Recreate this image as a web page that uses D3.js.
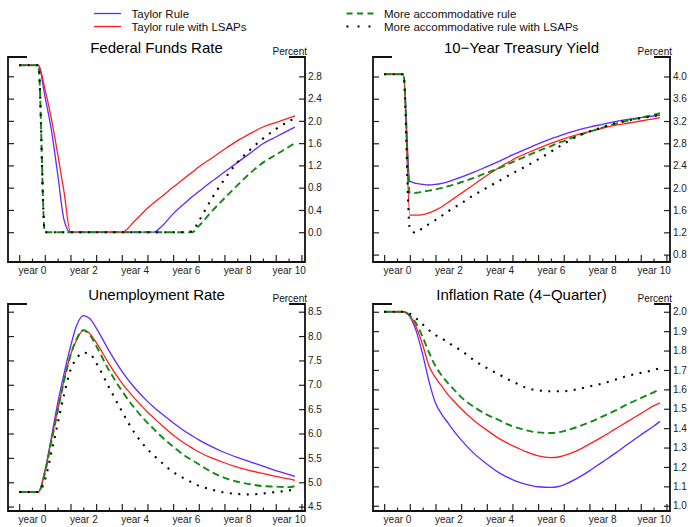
<!DOCTYPE html>
<html><head><meta charset="utf-8">
<script src="https://cdn.jsdelivr.net/npm/d3@7"></script>
<style>
body{margin:0;background:#fff;}
svg{display:block;font-family:"Liberation Sans",Arial,Helvetica,sans-serif;}
</style></head>
<body><svg id="c" width="690" height="527"></svg>
<script>
// ---------------- DATA ----------------
const years = [-0.5, 0, 0.25, 0.5, 0.75, 1, 1.25, 1.5, 1.75, 2, 2.25, 2.5, 3, 3.5, 4, 4.5, 4.75, 5, 5.5, 6, 6.25, 6.5, 7, 7.5, 8, 8.5, 9, 9.5, 10, 10.25];
const seriesNames = ["Taylor Rule", "Taylor rule with LSAPs", "More accommodative rule", "More accommodative rule with LSAPs"];
const panelTitles = ["Federal Funds Rate", "10\u2212Year Treasury Yield", "Unemployment Rate", "Inflation Rate (4\u2212Quarter)"];
const xLabelYears = [0, 2, 4, 6, 8, 10];

// Federal funds rate
const ffrTaylor      = [3.0,3.0,3.0, 2.45,1.85,1.05,0.22, 0,0,0,0,0,0,0,0,0,0, 0.08,0.33,0.54,0.64,0.73,0.91,1.08,1.25,1.42,1.59,1.71,1.83,1.89];
const ffrTaylorLSAP  = [3.0,3.0,3.0, 2.58,2.05,1.41,0.72, 0,0,0,0,0,0,0, 0.2,0.43,0.53,0.62,0.81,0.99,1.08,1.17,1.33,1.49,1.64,1.77,1.89,1.97,2.05,2.09];
const ffrAccom       = [3.0,3.0,3.0, 0,0,0,0,0,0,0,0,0,0,0,0,0,0,0,0,0,0, 0.11,0.37,0.61,0.84,1.06,1.25,1.39,1.53,1.60];
const ffrAccomLSAP   = [3.0,3.0,3.0, 0,0,0,0,0,0,0,0,0,0,0,0,0,0,0,0,0, 0.02,0.2,0.6,0.95,1.25,1.48,1.68,1.85,1.99,2.05];
// 10-year Treasury yield
const tyTaylor       = [4.04,4.04,4.04, 2.12,2.08,2.06,2.05,2.06,2.08,2.11,2.15,2.19,2.28,2.38,2.48,2.59,2.64,2.69,2.79,2.88,2.92,2.96,3.03,3.09,3.14,3.19,3.23,3.26,3.29,3.30];
const tyTaylorLSAP   = [4.04,4.04,4.04, 1.51,1.51,1.52,1.55,1.60,1.66,1.74,1.82,1.90,2.06,2.22,2.37,2.50,2.56,2.61,2.71,2.80,2.84,2.88,2.95,3.01,3.07,3.12,3.16,3.20,3.24,3.26];
const tyAccom        = [4.04,4.04,4.04, 1.90,1.91,1.93,1.95,1.97,2.00,2.03,2.06,2.10,2.18,2.27,2.36,2.46,2.51,2.56,2.66,2.75,2.80,2.84,2.93,3.01,3.08,3.15,3.21,3.26,3.31,3.34];
const tyAccomLSAP    = [4.04,4.04,4.04, 1.26,1.19,1.28,1.35,1.42,1.50,1.58,1.65,1.72,1.87,2.00,2.13,2.26,2.32,2.38,2.51,2.65,2.72,2.79,2.92,3.01,3.09,3.16,3.21,3.25,3.29,3.31];
// Unemployment rate
const urTaylor       = [4.8,4.8,4.8, 5.23,5.90,6.62,7.23,7.78,8.23,8.42,8.36,8.17,7.70,7.28,6.94,6.66,6.54,6.43,6.22,6.03,5.95,5.87,5.73,5.61,5.51,5.42,5.33,5.24,5.16,5.12];
const urTaylorLSAP   = [4.8,4.8,4.8, 5.21,5.86,6.48,7.10,7.61,7.93,8.12,8.05,7.87,7.43,7.04,6.72,6.44,6.32,6.20,5.97,5.78,5.70,5.62,5.50,5.40,5.31,5.24,5.18,5.12,5.07,5.04];
const urAccom        = [4.8,4.8,4.8, 5.18,5.82,6.45,7.08,7.60,7.95,8.12,8.03,7.80,7.30,6.88,6.52,6.22,6.09,5.96,5.73,5.53,5.45,5.37,5.21,5.09,5.01,4.96,4.92,4.91,4.90,4.92];
const urAccomLSAP    = [4.8,4.8,4.8, 5.04,5.60,6.20,6.80,7.30,7.55,7.66,7.64,7.45,6.95,6.46,6.01,5.68,5.55,5.43,5.21,5.06,4.99,4.93,4.85,4.79,4.76,4.75,4.77,4.80,4.83,4.86];
// Inflation rate (4-quarter)
const infTaylor      = [2,2,2, 1.975,1.90,1.78,1.64,1.53,1.47,1.425,1.38,1.34,1.27,1.215,1.168,1.135,1.122,1.112,1.098,1.095,1.098,1.108,1.14,1.18,1.225,1.27,1.318,1.365,1.41,1.435];
const infTaylorLSAP  = [2,2,2, 1.98,1.92,1.83,1.72,1.66,1.615,1.57,1.535,1.50,1.44,1.39,1.345,1.31,1.295,1.28,1.257,1.248,1.25,1.258,1.283,1.318,1.355,1.395,1.435,1.475,1.515,1.53];
const infAccom       = [2,2,2, 1.98,1.94,1.87,1.79,1.72,1.67,1.63,1.595,1.56,1.51,1.47,1.44,1.41,1.40,1.39,1.378,1.375,1.378,1.385,1.405,1.43,1.46,1.49,1.525,1.555,1.585,1.60];
const infAccomLSAP   = [2,2,2, 1.99,1.965,1.935,1.905,1.88,1.862,1.84,1.82,1.80,1.75,1.71,1.675,1.64,1.625,1.61,1.595,1.59,1.59,1.59,1.60,1.615,1.63,1.65,1.67,1.685,1.70,1.71];

const ffrTicks = [0.0,0.4,0.8,1.2,1.6,2.0,2.4,2.8];
const tyTicks  = [0.8,1.2,1.6,2.0,2.4,2.8,3.2,3.6,4.0];
const urTicks  = [4.5,5.0,5.5,6.0,6.5,7.0,7.5,8.0,8.5];
const infTicks = [1.0,1.1,1.2,1.3,1.4,1.5,1.6,1.7,1.8,1.9,2.0];

// ---------------- STYLE / LAYOUT ----------------
const styles = [
  {color:"#6128ff", width:1.3, dash:null},
  {color:"#ff1f1f", width:1.3, dash:null},
  {color:"#118a11", width:1.9, dash:"7,4"},
  {color:"#000000", width:2.1, dash:"2,6.5"}
];
const panels = [
  {title:panelTitles[0], left:8,   top:57,  h:205, yDom:[-0.535,3.147], ticks:ffrTicks, series:[ffrTaylor,ffrTaylorLSAP,ffrAccom,ffrAccomLSAP]},
  {title:panelTitles[1], left:373, top:57,  h:205, yDom:[0.667,4.35],   ticks:tyTicks,  series:[tyTaylor,tyTaylorLSAP,tyAccom,tyAccomLSAP]},
  {title:panelTitles[2], left:8,   top:304, h:207, yDom:[4.41,8.658],   ticks:urTicks,  series:[urTaylor,urTaylorLSAP,urAccom,urAccomLSAP]},
  {title:panelTitles[3], left:373, top:304, h:207, yDom:[0.973,2.04],   ticks:infTicks, series:[infTaylor,infTaylorLSAP,infAccom,infAccomLSAP]}
];
const W = 297;
const svg = d3.select("#c");

// Legend
const legendPos = [[94,13.5],[94,26.5],[346.5,13.5],[346.5,26.5]];
seriesNames.forEach((n,i)=>{
  const [lx,ly] = legendPos[i];
  const s = styles[i];
  svg.append("line").attr("x1",lx).attr("x2",lx+27).attr("y1",ly).attr("y2",ly)
    .attr("stroke",s.color).attr("stroke-width",s.width).attr("stroke-dasharray", i===3 ? "2,9" : (i===2 ? "6,4.5" : null));
  svg.append("text").attr("x",lx+37.5).attr("y",ly+4).attr("font-size","11.5px").attr("fill","#111").text(n);
});

panels.forEach(p=>{
  const g = svg.append("g");
  const x = d3.scaleLinear().domain([-0.935,10.64]).range([p.left, p.left+W]);
  const y = d3.scaleLinear().domain(p.yDom).range([p.top+p.h, p.top]);
  const right = p.left+W, bottom = p.top+p.h;

  // title
  g.append("text").attr("x",p.left+W/2).attr("y",p.top-4).attr("text-anchor","middle")
    .attr("font-size","15px").attr("fill","#000").text(p.title);
  g.append("text").attr("x",right+2).attr("y",p.top-2).attr("text-anchor","end")
    .attr("font-size","10px").attr("fill","#111").text("Percent");

  // right axis (labels outside, ticks inward)
  const ra = g.append("g").attr("transform",`translate(${right},0)`)
    .call(d3.axisRight(y).tickValues(p.ticks).tickFormat(d3.format(".1f")).tickSizeInner(-6).tickSizeOuter(0).tickPadding(3));
  // left axis ticks inward
  const la = g.append("g").attr("transform",`translate(${p.left},0)`)
    .call(d3.axisLeft(y).tickValues(p.ticks).tickFormat("").tickSizeInner(-6).tickSizeOuter(0));
  // bottom axes
  const halfYears = d3.range(-0.5, 10.6, 1);
  const ba1 = g.append("g").attr("transform",`translate(0,${bottom})`)
    .call(d3.axisBottom(x).tickValues(halfYears).tickFormat("").tickSizeInner(-7).tickSizeOuter(0));
  const ba2 = g.append("g").attr("transform",`translate(0,${bottom})`)
    .call(d3.axisBottom(x).tickValues(d3.range(0,11,1)).tickFormat(d=> xLabelYears.includes(d) ? "year "+d : "")
      .tickSizeInner(-3.5).tickSizeOuter(0).tickPadding(4.5));
  [ra,la,ba1,ba2].forEach(a=>{
    a.select(".domain").remove();
    a.selectAll(".tick line").attr("stroke","#222").attr("stroke-width",1.2);
    a.selectAll(".tick text").attr("font-size","10px").attr("fill","#222")
      .attr("font-family",'"Liberation Sans",Arial,sans-serif');
  });

  // frame
  const fr = g.append("g").attr("stroke","#111").attr("stroke-width",1.8).attr("fill","none");
  fr.append("path").attr("d",`M${p.left+19},${p.top}H${p.left}V${bottom}H${right}V${p.top}H${right-16}`);

  // lines
  p.series.forEach((vals,i)=>{
    const s = styles[i];
    const line = d3.line().x((d,j)=>x(years[j])).y(d=>y(d)).curve(d3.curveMonotoneX);
    g.append("path").datum(vals).attr("d",line).attr("fill","none")
      .attr("stroke",s.color).attr("stroke-width",s.width)
      .attr("stroke-dasharray",s.dash);
  });
});
</script></body></html>
